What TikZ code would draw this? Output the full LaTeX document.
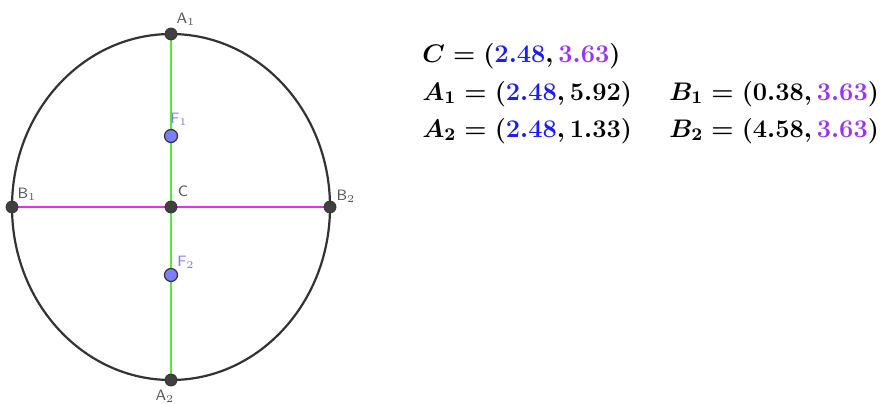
\RequirePackage{fix-cm}
\documentclass[tikz,border=0pt]{standalone}
\usepackage{amsmath, amssymb}
\usepackage{xcolor}
\usepackage{tikz}
\usetikzlibrary{positioning, backgrounds}

\definecolor{ggblue}{RGB}{28,28,255}
\definecolor{ggpurple}{RGB}{153,51,255}
\definecolor{gggreen}{RGB}{90,230,60}
\definecolor{ggmagenta}{RGB}{240,40,240}
\definecolor{ggfocus}{RGB}{125,125,255}
\definecolor{gglabel}{RGB}{85,85,85}

\begin{document}
\begin{tikzpicture}[
  x=0.5pt, y=-0.5pt,
  curve/.style={draw=black!80, line width=1.1pt},
  major/.style={draw=gggreen, line width=1.1pt},
  minor/.style={draw=ggmagenta, line width=1.1pt},
  pnt/.style={circle, draw=black!80, fill=black!75, inner sep=0pt, minimum size=6pt},
  focus/.style={circle, draw=black!80, fill=ggfocus, line width=0.6pt, inner sep=0pt, minimum size=6.5pt},
  lbl/.style={font=\sffamily\fontsize{7.5}{8}\selectfont, text=gglabel, inner sep=0pt},
  flbl/.style={lbl, text=ggfocus},
  coordtext/.style={anchor=base west, inner sep=0pt,
                    font=\fontsize{12.7}{16}\selectfont\boldmath},
]
\useasboundingbox (0,0) rectangle (881,403);

% points of the ellipse
\node[pnt]   (C)  at (171,207) {};
\node[pnt]   (A1) at (171,34)  {};
\node[pnt]   (A2) at (171,380) {};
\node[pnt]   (B1) at (12,207)  {};
\node[pnt]   (B2) at (330,207) {};
\node[focus] (F1) at (171,136) {};
\node[focus] (F2) at (171,275) {};

% labels
\node[lbl]  (lA1) at (186,19)  {A$_1$};
\node[lbl]  (lA2) at (165,396) {A$_2$};
\node[lbl]  (lB1) at (27,194)  {B$_1$};
\node[lbl]  (lB2) at (346,196) {B$_2$};
\node[lbl]  (lC)  at (183,191) {C};
\node[flbl] (lF1) at (179,119) {F$_1$};
\node[flbl] (lF2) at (186,262) {F$_2$};

% ellipse and axes behind the points
\begin{scope}[on background layer]
  \draw[curve] (C) ellipse [x radius=159, y radius=173];
  \draw[major] (A1.center) -- (A2.center);
  \draw[minor] (B1.center) -- (B2.center);
\end{scope}

% coordinates
\node[coordtext] (tC)  at (422,62)  {$C=(\textcolor{ggblue}{2.48},\textcolor{ggpurple}{3.63})$};
\node[coordtext] (tA1) at (422,100) {$A_1=(\textcolor{ggblue}{2.48},5.92)$};
\node[coordtext] (tA2) at (422,137) {$A_2=(\textcolor{ggblue}{2.48},1.33)$};
\node[coordtext] (tB1) at (669,100) {$B_1=(0.38,\textcolor{ggpurple}{3.63})$};
\node[coordtext] (tB2) at (669,137) {$B_2=(4.58,\textcolor{ggpurple}{3.63})$};
\end{tikzpicture}
\end{document}
